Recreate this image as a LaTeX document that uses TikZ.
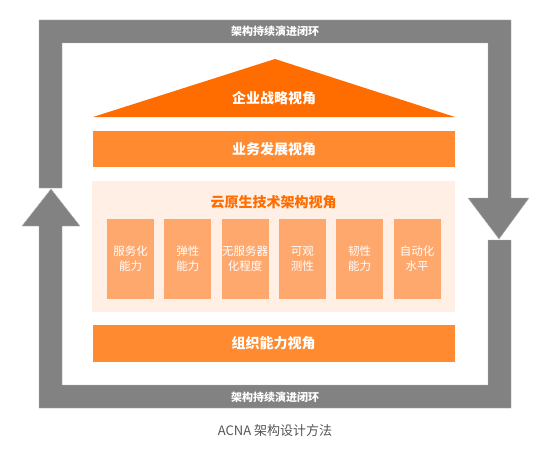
\documentclass[tikz,border=0pt]{standalone}
\usepackage{fontspec}
\setmainfont{Noto Sans CJK SC}
\definecolor{roofc}{HTML}{FF6C00}
\definecolor{barc}{HTML}{FF8A30}
\definecolor{cellc}{HTML}{FFA86D}
\definecolor{lightc}{HTML}{FFEFE4}
\definecolor{loopc}{HTML}{828282}
\definecolor{capc}{HTML}{555555}
\tikzset{
  bar/.style={fill=barc, draw=none, minimum width=362pt, minimum height=36pt, inner sep=0pt,
    text=white, font=\fontsize{14}{16}\selectfont\bfseries},
  cell/.style={fill=cellc, draw=none, minimum width=47pt, minimum height=80pt, inner sep=0pt,
    text=white, align=center, font=\fontsize{11.5}{15}\selectfont},
  looplabel/.style={text=white, inner sep=0pt, font=\fontsize{11}{13}\selectfont\bfseries},
  loopshape/.style={fill=loopc, draw=loopc!60, line width=0.4pt}
}
\begin{document}
\begin{tikzpicture}[x=1pt,y=-1pt]
\useasboundingbox[fill=white] (0,0) rectangle (554,452);
% gray loop: top part with right arrow
\path[loopshape] (39,20) -- (511,20) -- (511,198) -- (529,198) -- (499,239) -- (468,198)
  -- (488,198) -- (488,43) -- (62,43) -- (62,188) -- (39,188) -- cycle;
% gray loop: bottom part with left arrow
\path[loopshape] (39,408) -- (39,226) -- (22,226) -- (51,189) -- (80,226) -- (62,226)
  -- (62,385) -- (488,385) -- (488,240) -- (511,240) -- (511,408) -- cycle;
\node[looplabel] (looptop) at (275,31.5) {架构持续演进闭环};
\node[looplabel] (loopbottom) at (275,397) {架构持续演进闭环};
% roof
\fill[roofc] (93,117) -- (275,59) -- (455,117) -- cycle;
\node[text=white, font=\fontsize{14}{16}\selectfont\bfseries] (strategy) at (274,98) {企业战略视角};
% business bar
\node[bar] (biz) at (274,149) {业务发展视角};
% cloud native area
\node[fill=lightc, minimum width=363pt, minimum height=131pt, inner sep=0pt] (cloud) at (273.5,246.5) {};
\node[text=roofc, font=\fontsize{14}{16}\selectfont\bfseries] (cloudtitle) at (273.5,202) {云原生技术架构视角};
\node[cell] (c1) at (130.5,259) {服务化\\能力};
\node[cell] (c2) at (187.8,259) {弹性\\能力};
\node[cell] (c3) at (245.1,259) {无服务器\\化程度};
\node[cell] (c4) at (302.4,259) {可观\\测性};
\node[cell] (c5) at (359.7,259) {韧性\\能力};
\node[cell] (c6) at (417,259) {自动化\\水平};
% organization bar
\node[bar, minimum height=37pt] (org) at (273.5,343.5) {组织能力视角};
% caption
\node[text=capc, font=\fontsize{13}{15}\selectfont] (caption) at (275,431) {ACNA 架构设计方法};
\end{tikzpicture}
\end{document}
